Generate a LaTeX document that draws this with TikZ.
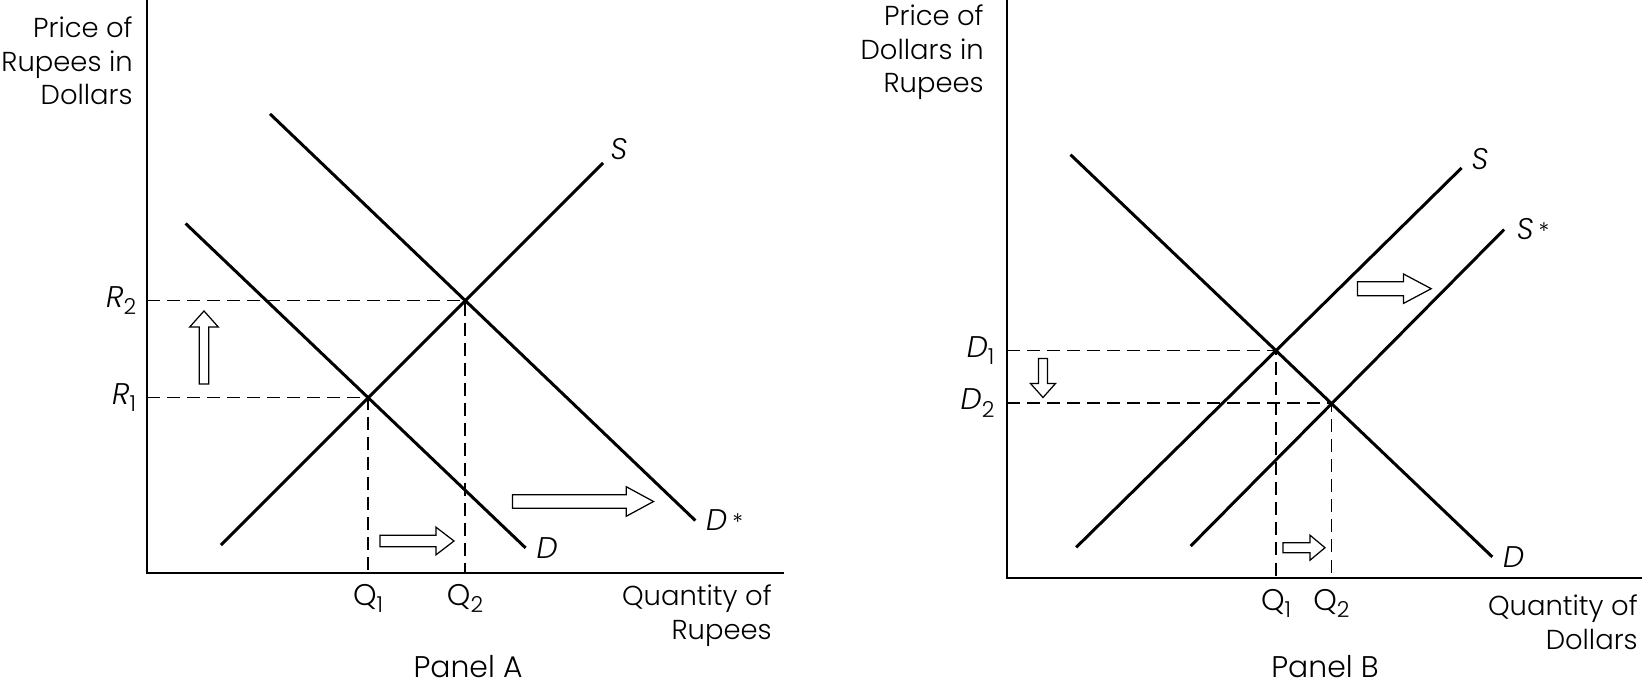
\documentclass[tikz,border=0pt]{standalone}
\usepackage{fontspec}
\setmainfont{Poppins}[UprightFont=* Light,ItalicFont=* Light Italic]
\newcommand{\shiftarrow}[7]{%
  \draw[shiftbox,shift={(#1,#2)},rotate=#3] (0,-#5) -- ({#4-#7},-#5) -- ({#4-#7},-#6) -- (#4,0) -- ({#4-#7},#6) -- ({#4-#7},#5) -- (0,#5) -- cycle;}
\newcommand{\low}[1]{\raisebox{-0.45ex}{\fontsize{12.5}{12.5}\selectfont #1}}
\newcommand{\shiftstar}{\,{\fontsize{13}{13}\selectfont *}}

\begin{document}
\begin{tikzpicture}[x=0.02cm,y=-0.02cm,line join=miter,
  axis/.style={line width=1.5pt},
  curve/.style={line width=1.7pt},
  guide/.style={line width=0.7pt,dash pattern=on 7.4pt off 4pt},
  shiftbox/.style={draw,fill=white,line width=0.7pt},
  lbl/.style={inner sep=0pt,font=\fontsize{17}{19}\selectfont},
  title/.style={inner sep=0pt,align=right,font=\fontsize{15.6}{19.3}\selectfont}]
\useasboundingbox (0,0) rectangle (1642,689);
\coordinate (aO) at (147,573);
\coordinate (aTop) at (147,0);
\coordinate (aEnd) at (784,573);
\coordinate (aE1) at (368,397.5);
\coordinate (aE2) at (465,300.5);
\coordinate (aR1) at (147,397.5);
\coordinate (aR2) at (147,300.5);
\coordinate (aQ1) at (368,573);
\coordinate (aQ2) at (465,573);
\coordinate (aS0) at (221,545);
\coordinate (aS1) at (603,163);
\coordinate (aD0) at (185.6,223.5);
\coordinate (aD1) at (525.6,547.9);
\coordinate (aDs0) at (270,113.9);
\coordinate (aDs1) at (695.3,520.5);
\coordinate (bO) at (1007,578);
\coordinate (bTop) at (1007,0);
\coordinate (bEnd) at (1642,578);
\coordinate (bE1) at (1276,350.8);
\coordinate (bE2) at (1331.3,403.1);
\coordinate (bP1) at (1007,350.8);
\coordinate (bP2) at (1007,403.1);
\coordinate (bQ1) at (1276,578);
\coordinate (bQ2) at (1331.3,578);
\coordinate (bS0) at (1076.2,547.3);
\coordinate (bS1) at (1461.6,167.9);
\coordinate (bSs0) at (1190.7,546);
\coordinate (bSs1) at (1504.1,229.5);
\coordinate (bD0) at (1070.5,154.7);
\coordinate (bD1) at (1492.3,556.9);
\draw[guide] (aR1) -- (aE1) -- (aQ1);
\draw[guide] (aR2) -- (aE2) -- (aQ2);
\draw[guide] (bP1) -- (bE1) -- (bQ1);
\draw[guide] (bP2) -- (bE2) -- (bQ2);
\draw[axis] (aTop) -- (aO) -- (aEnd);
\draw[axis] (bTop) -- (bO) -- (bEnd);
\draw[curve] (aS0) -- (aS1);
\draw[curve] (aD0) -- (aD1);
\draw[curve] (aDs0) -- (aDs1);
\draw[curve] (bS0) -- (bS1);
\draw[curve] (bSs0) -- (bSs1);
\draw[curve] (bD0) -- (bD1);
\shiftarrow{204}{384}{90}{73}{4.7}{14.3}{16}
\shiftarrow{380}{541}{0}{74}{5.8}{13.8}{18}
\shiftarrow{512.5}{501.5}{0}{141}{6.7}{14.8}{27.3}
\shiftarrow{1043}{358.5}{-90}{39}{4.5}{12.5}{14}
\shiftarrow{1357.5}{288.7}{0}{73.7}{7}{14.7}{27.7}
\shiftarrow{1283}{547.7}{0}{42}{5}{12.5}{15}
\node[title,anchor=north east] (aYlab) at (133,16) {Price of\\Rupees in\\Dollars};
\node[title,anchor=north east] (aXlab) at (772,584) {Quantity of\\Rupees};
\node[lbl] (aPanel) at (468,667) {Panel A};
\node[lbl,left=6pt] (aR1lab) at (aR1) {\textit{R}\low{1}};
\node[lbl,left=6pt] (aR2lab) at (aR2) {\textit{R}\low{2}};
\node[lbl,below=6pt] (aQ1lab) at (aQ1) {Q\low{1}};
\node[lbl,below=6pt] (aQ2lab) at (aQ2) {Q\low{2}};
\node[lbl] (aSlab) at (619,149) {\textit{S}};
\node[lbl,right=6pt] (aDlab) at (aD1) {\textit{D}};
\node[lbl,right=6pt] (aDslab) at (aDs1) {\textit{D}\shiftstar};
\node[title,anchor=north east] (bYlab) at (984,4) {Price of\\Dollars in\\Rupees};
\node[title,anchor=north east] (bXlab) at (1638,594) {Quantity of\\Dollars};
\node[lbl] (bPanel) at (1325,667) {Panel B};
\node[lbl,left=7pt] (bP1lab) at (bP1) {\textit{D}\low{1}};
\node[lbl,left=7pt] (bP2lab) at (bP2) {\textit{D}\low{2}};
\node[lbl,below=6pt] (bQ1lab) at (bQ1) {Q\low{1}};
\node[lbl,below=6pt] (bQ2lab) at (bQ2) {Q\low{2}};
\node[lbl] (bSlab) at (1480,159) {\textit{S}};
\node[lbl,right=7pt] (bSslab) at (bSs1) {\textit{S}\shiftstar};
\node[lbl,right=6pt] (bDlab) at (bD1) {\textit{D}};
\end{tikzpicture}
\end{document}
